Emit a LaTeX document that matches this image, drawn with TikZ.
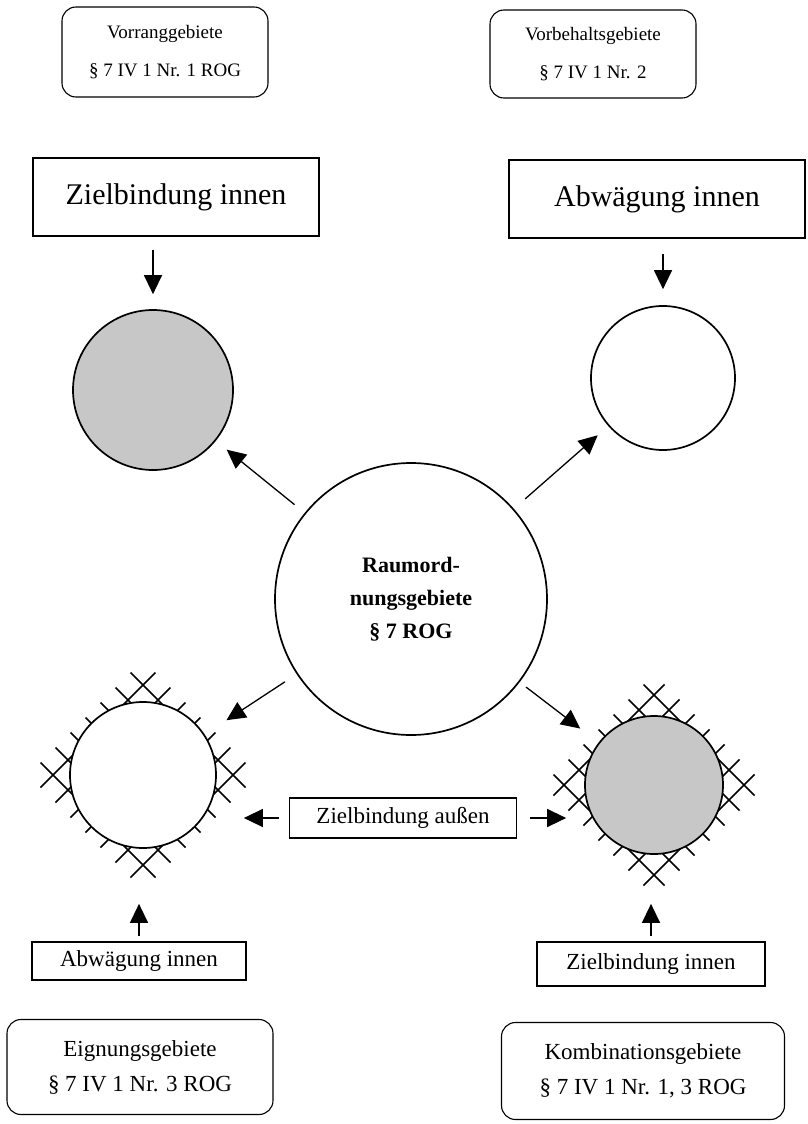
\documentclass[tikz,border=0pt]{standalone}
\usepackage{fontspec}
\setmainfont{Liberation Serif}
\usetikzlibrary{arrows.meta}

\begin{document}
\begin{tikzpicture}[x=1pt,y=-1pt,
    kasten/.style={draw,line width=1.1pt,inner sep=0pt,align=center},
    rkasten/.style={kasten,rounded corners=14pt},
    kreis/.style={circle,draw,line width=1.7pt,inner sep=0pt},
    pfeil/.style={line width=1.3pt,-{Triangle[length=19pt,width=18pt]}},
    gitter/.style={line width=1.5pt}]
  \useasboundingbox (0,0) rectangle (807,1124);

  % Kaesten oben
  \node[rkasten,minimum width=206,minimum height=90,font=\fontsize{19}{38}\selectfont] (vorrangT) at (165,52) {Vorranggebiete\\§ 7 IV 1 Nr. 1 ROG};
  \node[rkasten,minimum width=206,minimum height=88,font=\fontsize{19}{38}\selectfont] (vorbehaltT) at (593,54) {Vorbehaltsgebiete\\§ 7 IV 1 Nr. 2};
  \node[kasten,minimum width=286,minimum height=78,font=\fontsize{30}{36}\selectfont] (zielA) at (176,197) {Zielbindung innen};
  \node[kasten,minimum width=296,minimum height=78,font=\fontsize{30}{36}\selectfont] (abwA) at (657,199) {Abwägung innen};

  % Schraffur der Gebiete unten
  \coordinate (eigM) at (143,775);
  \coordinate (komM) at (654,785);
  \foreach \m/\c in {eigM/115,komM/111}{
    \begin{scope}
      \clip ([shift={(0,-\c)}]\m) -- ([shift={(\c,0)}]\m) -- ([shift={(0,\c)}]\m) -- ([shift={(-\c,0)}]\m) -- cycle;
      \foreach \d in {-150,-120,...,150}{
        \draw[gitter] ([shift={(\d-140,-140)}]\m) -- ++(280,280);
        \draw[gitter] ([shift={(\d+140,-140)}]\m) -- ++(-280,280);
      }
    \end{scope}
  }

  % Kreise
  \node[kreis,minimum size=160,fill=black!22] (vorrang) at (153,390) {};
  \node[kreis,minimum size=144,fill=white] (vorbehalt) at (663,378) {};
  \node[kreis,minimum size=272,fill=white,font=\bfseries\fontsize{22}{33}\selectfont,align=center] (raumord) at (411,599) {Raumord-\\nungsgebiete\\§ 7 ROG};
  \node[kreis,minimum size=146,fill=white] (eignung) at (eigM) {};
  \node[kreis,minimum size=138,fill=black!22] (kombi) at (komM) {};

  % Kaesten unten
  \node[kasten,minimum width=227,minimum height=40,font=\fontsize{23}{28}\selectfont] (aussen) at (403,818) {Zielbindung außen};
  \node[kasten,minimum width=214,minimum height=38,font=\fontsize{23}{28}\selectfont] (abwB) at (139,961) {Abwägung innen};
  \node[kasten,minimum width=228,minimum height=44,font=\fontsize{23}{28}\selectfont] (zielB) at (651,964) {Zielbindung innen};
  \node[rkasten,minimum width=266,minimum height=95,font=\fontsize{23}{35}\selectfont] (eignT) at (140,1067) {Eignungsgebiete\\§ 7 IV 1 Nr. 3 ROG};
  \node[rkasten,minimum width=283,minimum height=97,font=\fontsize{23}{35}\selectfont] (kombiT) at (643,1071) {Kombinationsgebiete\\§ 7 IV 1 Nr. 1, 3 ROG};

  % Pfeile
  \draw[pfeil,shorten <=13pt,shorten >=15pt] (vorrang.north |- zielA.south) -- (vorrang.north);
  \draw[pfeil,shorten <=15pt,shorten >=16pt] (vorbehalt.north |- abwA.south) -- (vorbehalt.north);
  \draw[pfeil,shorten <=13pt,shorten >=14pt] (raumord) -- (vorrang);
  \draw[pfeil,shorten <=15pt,shorten >=14pt] (raumord) -- (vorbehalt);
  \draw[pfeil,shorten <=14pt,shorten >=26pt] (raumord) -- (eignung);
  \draw[pfeil,shorten <=8pt,shorten >=23pt] (raumord) -- (kombi);
  \draw[pfeil,shorten <=10pt,shorten >=27pt] (aussen.west) -- (aussen.west -| eignung.east);
  \draw[pfeil,shorten <=13pt,shorten >=18pt] (aussen.east) -- (aussen.east -| kombi.west);
  \draw[pfeil,shorten <=5pt,shorten >=55pt] (abwB.north) -- (abwB.north |- eignung.south);
  \draw[pfeil,shorten <=5pt,shorten >=49pt] (zielB.north) -- (zielB.north |- kombi.south);
\end{tikzpicture}
\end{document}
